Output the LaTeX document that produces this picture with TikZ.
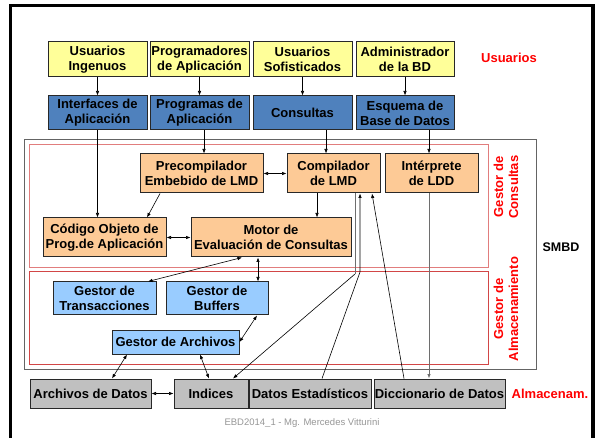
\documentclass[tikz,border=0pt]{standalone}
\usepackage{fontspec}
\setmainfont{Liberation Sans}
\usetikzlibrary{arrows.meta}
\definecolor{yel}{RGB}{255,255,153}
\definecolor{blu}{RGB}{79,129,189}
\definecolor{ora}{RGB}{253,202,150}
\definecolor{lbl}{RGB}{153,204,255}
\definecolor{gry}{RGB}{192,192,192}
\definecolor{bord}{RGB}{40,40,40}
\definecolor{redA}{RGB}{225,125,125}
\definecolor{redB}{RGB}{210,70,70}
\definecolor{lbred}{RGB}{255,0,0}
\definecolor{smbdgray}{RGB}{100,100,100}
\definecolor{footgray}{RGB}{150,150,150}
\definecolor{lingray}{RGB}{110,110,110}
\begin{document}
\begin{tikzpicture}[x=1pt,y=-1pt,
  box/.style={draw=bord,line width=1pt,inner sep=0pt,align=center,
    font=\fontsize{13}{15}\selectfont\bfseries},
  ybox/.style={box,fill=yel,minimum height=35pt},
  bbox/.style={box,fill=blu,minimum height=34pt},
  obox/.style={box,fill=ora,minimum height=39pt},
  lbox/.style={box,fill=lbl},
  gbox/.style={box,fill=gry,minimum height=29pt},
  arr/.style={-{Latex[length=4.5pt,width=3.5pt]},line width=0.6pt,draw=black},
  darr/.style={{Latex[length=4.5pt,width=3.5pt]}-{Latex[length=4.5pt,width=3.5pt]},line width=0.6pt,draw=black},
  glin/.style={line width=1pt,draw=lingray},
  redlbl/.style={text=lbred,font=\fontsize{13}{15}\selectfont\bfseries,align=center,inner sep=0pt}
]
\useasboundingbox (0,0) rectangle (597,438);
% outer frame
\draw[line width=3.5pt] (10.5,438) -- (10.5,5.5) -- (593,5.5) -- (593,438);
% SMBD box and red boxes
\draw[draw=smbdgray,line width=0.8pt] (24,139) rectangle (536,369);
\draw[draw=redA,line width=0.9pt] (29,144) rectangle (488,267);
\draw[draw=redB,line width=0.8pt] (29,271) rectangle (488,364);

% top row
\node[ybox,minimum width=99pt] (u1) at (97.5,59.5) {Usuarios\\Ingenuos};
\node[ybox,minimum width=99pt] (u2) at (199.5,59.5) {Programadores\\de Aplicación};
\node[ybox,minimum width=99pt] (u3) at (302.5,59.5) {Usuarios\\Sofisticados};
\node[ybox,minimum width=98pt] (u4) at (405,59.5) {Administrador\\de la BD};
% blue row
\node[bbox,minimum width=99pt] (b1) at (97.5,113) {Interfaces de\\Aplicación};
\node[bbox,minimum width=99pt] (b2) at (199.5,113) {Programas de\\Aplicación};
\node[bbox,minimum width=99pt] (b3) at (302.5,113) {Consultas};
\node[bbox,minimum width=98pt] (b4) at (405,113) {Esquema de\\Base de Datos};
% orange
\node[obox,minimum width=123pt] (pre) at (201.5,173.5) {Precompilador\\Embebido de LMD};
\node[obox,minimum width=93pt] (comp) at (333.5,173.5) {Compilador\\de LMD};
\node[obox,minimum width=93pt] (int) at (431.5,173.5) {Intérprete\\de LDD};
\node[obox,minimum width=123pt] (cod) at (104.5,237.5) {Código Objeto de\\Prog.de Aplicación};
\node[obox,minimum width=160pt] (mot) at (271,237.5) {Motor de\\Evaluación de Consultas};
% light blue
\node[lbox,minimum width=103pt,minimum height=33pt] (tra) at (104.5,298.5) {Gestor de\\Transacciones};
\node[lbox,minimum width=102pt,minimum height=33pt] (buf) at (217,298.5) {Gestor de\\Buffers};
\node[lbox,minimum width=127pt,minimum height=24pt] (arc) at (175.5,342) {Gestor de Archivos};
% gray
\node[gbox,minimum width=121pt] (ad) at (90.5,393.5) {Archivos de Datos};
\node[gbox,minimum width=74pt] (ind) at (211,393.5) {Indices};
\node[gbox,minimum width=122pt] (de) at (310,393.5) {Datos Estadísticos};
\node[gbox,minimum width=131pt] (dd) at (439.5,393.5) {Diccionario de Datos};

% labels
\node[redlbl] (lu) at (509,58) {Usuarios};
\node[redlbl,rotate=90] (lgc) at (506,187) {Gestor de\\Consultas};
\node[redlbl,rotate=90] (lga) at (506,309) {Gestor de\\Almacenamiento};
\node[font=\fontsize{12.5}{15}\selectfont\bfseries,inner sep=0pt] (ls) at (561,247) {SMBD};
\node[redlbl] (la) at (550,394) {Almacenam.};
\node[text=footgray,font=\fontsize{9.5}{11}\selectfont,inner sep=0pt] (foot) at (302,423) {EBD2014\_1 - Mg. Mercedes Vitturini};

% arrows top
\draw[arr] (u1) -- (b1);
\draw[arr] (u2) -- (b2);
\draw[arr] (u3) -- (b3);
\draw[arr] (u4) -- (b4);
\draw[arr] (b1.south) -- (b1.south |- cod.north);
\draw[arr] ([xshift=4.5pt]b2.south) -- ([xshift=4.5pt]b2.south |- pre.north);
\draw[arr] ([xshift=23.5pt]b3.south) -- ([xshift=23.5pt]b3.south |- comp.north);
\draw[arr] ([xshift=24pt]b4.south) -- ([xshift=24pt]b4.south |- int.north);
% orange links
\draw[darr] (pre.east) -- (comp.west);
\draw[arr] ([xshift=-41.5pt]pre.south) -- ([xshift=42.5pt]cod.north);
\draw[darr] (cod.east) -- (mot.west);
\draw[arr] ([xshift=-16.5pt]comp.south) -- ([xshift=-16.5pt]comp.south |- mot.north);
\draw[darr] ([xshift=-13pt]mot.south) -- ([xshift=-13pt]mot.south |- buf.north);
\draw[darr] ([xshift=-29pt]mot.south) -- ([xshift=43.5pt]tra.north);
% storage links
\draw[darr] ([xshift=40pt]buf.south) -- (arc.east);
\draw[darr] ([xshift=-48.5pt]arc.south) -- ([xshift=21.5pt]ad.north);
\draw[darr] ([xshift=24.5pt]arc.south) -- ([xshift=-2pt]ind.north);
\draw[darr] (ad.east) -- (ind.west);
% long links
\draw[arr,draw=lingray,line width=0.9pt] ([xshift=-2.5pt]int.south) -- ([xshift=-2.5pt]int.south |- dd.north);
\coordinate (kA) at (355,274);
\coordinate (kB) at (360,272);
\draw[glin] ([xshift=21.5pt]comp.south) -- (kA);
\draw[arr] (kA) -- ([xshift=22pt]ind.north);
\draw[arr] ([xshift=12pt]de.north) -- (kB) -- ([xshift=26.5pt]comp.south);
\draw[arr] ([xshift=-35.5pt]dd.north) -- ([xshift=38.5pt]comp.south);
\end{tikzpicture}
\end{document}
